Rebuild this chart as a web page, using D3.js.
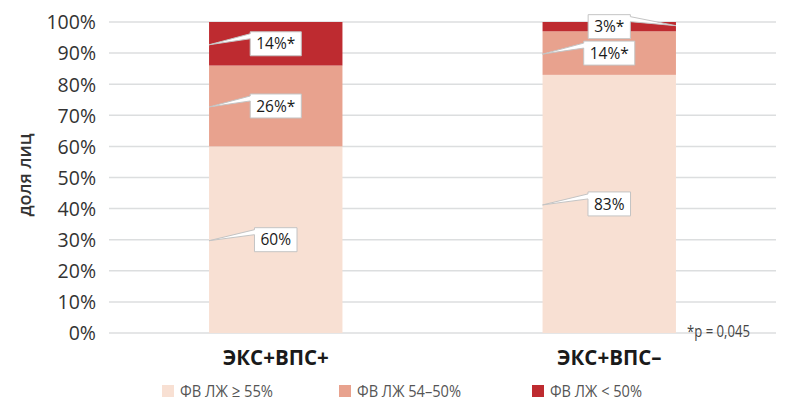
<!DOCTYPE html>
<html>
<head>
<meta charset="utf-8">
<script src="https://cdn.jsdelivr.net/npm/d3@7"></script>
<style>
  html, body { margin: 0; padding: 0; background: #ffffff; }
  svg { display: block; }
</style>
</head>
<body>
<div id="chart"></div>
<script>
// ---- data ----
const categories = ["ЭКС+ВПС+", "ЭКС+ВПС–"];
const seriesNames = ["ФВ ЛЖ ≥ 55%", "ФВ ЛЖ 54–50%", "ФВ ЛЖ < 50%"];
const efHigh = [60, 83];     // ФВ ЛЖ ≥ 55%
const efMid = [26, 14];      // ФВ ЛЖ 54–50%
const efLow = [14, 3];       // ФВ ЛЖ < 50%
const labelsHigh = ["60%", "83%"];
const labelsMid = ["26%*", "14%*"];
const labelsLow = ["14%*", "3%*"];
const yTicks = [0, 10, 20, 30, 40, 50, 60, 70, 80, 90, 100];
const yTitle = "доля лиц";
const footnote = "*p = 0,045";
const colors = ["#f8e0d3", "#e8a28e", "#be2b30"];

// ---- layout ----
const W = 785, H = 401;
const svg = d3.select("#chart").append("svg").attr("width", W).attr("height", H);

const x = d3.scaleBand().domain(categories).range([109, 776]).paddingInner(0.6).paddingOuter(0.3);
const y = d3.scaleLinear().domain([0, 100]).range([333, 22]);

// gridlines
svg.append("g").selectAll("line").data(yTicks).join("line")
  .attr("x1", 109).attr("x2", 776)
  .attr("y1", d => y(d)).attr("y2", d => y(d))
  .attr("stroke", "#dcdedf").attr("stroke-width", 1.5);

// y axis labels
const yAxis = d3.axisLeft(y).tickValues(yTicks).tickFormat(d => d + "%").tickSize(0).tickPadding(0);
const yg = svg.append("g").attr("transform", "translate(96,0)").call(yAxis);
yg.select(".domain").remove();
yg.selectAll("text").attr("font-family", "'Open Sans', sans-serif").attr("font-size", 19.5)
  .attr("fill", "#333").attr("dy", "0.35em");

// y title
svg.append("text").attr("transform", "translate(31,175) rotate(-90)")
  .attr("text-anchor", "middle").attr("font-family", "'Open Sans', sans-serif")
  .attr("font-size", 18).attr("font-weight", 600).attr("fill", "#333").text(yTitle);

// stacked data
const rows = categories.map((c, i) => ({ cat: c, high: efHigh[i], mid: efMid[i], low: efLow[i] }));
const stack = d3.stack().keys(["high", "mid", "low"])(rows);
const labelSets = [labelsHigh, labelsMid, labelsLow];

svg.append("g").selectAll("g").data(stack).join("g")
  .attr("fill", (d, i) => colors[i])
  .selectAll("rect").data(d => d).join("rect")
  .attr("x", d => x(d.data.cat)).attr("width", x.bandwidth())
  .attr("y", d => y(d[1])).attr("height", d => y(d[0]) - y(d[1]));

// callout labels
const lblG = svg.append("g");
stack.forEach((layer, si) => {
  layer.forEach((d, ci) => {
    const txt = labelSets[si][ci];
    const cx = x(d.data.cat) + x.bandwidth() / 2;
    const cy = y((d[0] + d[1]) / 2);
    const t = lblG.append("text").attr("x", cx).attr("y", cy).attr("dy", "0.36em")
      .attr("text-anchor", "middle").attr("font-family", "'Open Sans', sans-serif")
      .attr("font-size", 15.5).attr("fill", "#1a1a1a").text(txt);
    const bw = t.node().getComputedTextLength() + 12;
    const bh = 24;
    const x0 = cx - bw / 2, x1 = cx + bw / 2, y0 = cy - bh / 2, y1 = cy + bh / 2;
    const pointRight = (d[1] - d[0]) < 5; // thin segment: pointer to the right edge
    let p;
    if (!pointRight) {
      const tx = x(d.data.cat), ty = cy + 1;
      p = `M${x0},${y0} L${x1},${y0} L${x1},${y1} L${x0},${y1} L${x0},${y0 + 7} L${tx},${ty} L${x0},${y0 + 2} Z`;
    } else {
      const tx = x(d.data.cat) + x.bandwidth(), ty = cy - 1;
      p = `M${x0},${y0} L${x1},${y0} L${x1},${y0 + 2} L${tx},${ty} L${x1},${y0 + 7} L${x1},${y1} L${x0},${y1} Z`;
    }
    lblG.insert("path", "text").attr("d", p).attr("fill", "#ffffff")
      .attr("stroke", "#c4c4c4").attr("stroke-width", 1);
  });
});

// category labels
svg.append("g").selectAll("text").data(categories).join("text")
  .attr("x", d => x(d) + x.bandwidth() / 2).attr("y", 365)
  .attr("text-anchor", "middle").attr("font-family", "'Open Sans', sans-serif")
  .attr("font-size", 20.5).attr("font-weight", 700).attr("fill", "#1a1a1a").text(d => d);

// footnote
svg.append("text").attr("x", 687).attr("y", 337)
  .attr("font-family", "'Open Sans', sans-serif")
  .attr("textLength", 63).attr("lengthAdjust", "spacingAndGlyphs")
  .attr("font-size", 16.5).attr("fill", "#444").text(footnote);

// legend
const legendX = [162, 339, 532];
const legendW = [93, 104, 92];
const lg = svg.append("g").selectAll("g").data(seriesNames).join("g")
  .attr("transform", (d, i) => `translate(${legendX[i]},0)`);
lg.append("rect").attr("x", 0).attr("y", 385).attr("width", 12).attr("height", 12)
  .attr("fill", (d, i) => colors[i]);
lg.append("text").attr("x", 18).attr("y", 396.5)
  .attr("font-family", "'Open Sans', sans-serif")
  .attr("textLength", (d, i) => legendW[i]).attr("lengthAdjust", "spacingAndGlyphs")
  .attr("font-size", 17).attr("fill", "#555").text(d => d);
</script>
</body>
</html>
